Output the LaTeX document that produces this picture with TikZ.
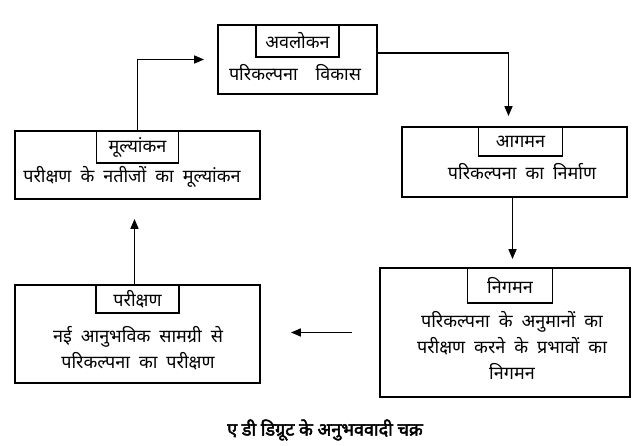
\documentclass[tikz,border=0pt]{standalone}
\usepackage{fontspec}
\newfontfamily\hindi[Script=Devanagari]{Noto Sans}
\newfontfamily\hindibold[Script=Devanagari,FakeBold=2.5]{Noto Sans}
\usetikzlibrary{positioning,arrows.meta}

\begin{document}
\begin{tikzpicture}[x=1pt,y=-1pt,
    font=\hindi\fontsize{18}{26}\selectfont,
    box/.style={draw,line width=1.8pt,inner sep=0pt},
    titlebox/.style={draw,line width=1.8pt,inner sep=0pt,font=\hindi\fontsize{18}{22}\selectfont},
    body/.style={align=center,inner sep=0pt},
    arr/.style={line width=1.6pt,-{Triangle[length=10pt,width=8pt]}}]
      \useasboundingbox (0,0) rectangle (634,446);
      \node[box, minimum width=159pt, minimum height=69pt] (avlokan) at (297.5,59.5) {};
      \node[titlebox, minimum width=83pt, minimum height=32pt, below=0pt of avlokan.north] (avlokanT) {अवलोकन};
      \node[body] (avlokanB) at (295,73) {परिकल्पना\quad विकास};
      \node[box, minimum width=225pt, minimum height=70pt] (agaman) at (514.5,162) {};
      \node[titlebox, minimum width=84pt, minimum height=29pt, below=0pt of agaman.north, xshift=6pt] (agamanT) {आगमन};
      \node[body] (agamanB) at (522,172) {परिकल्पना\enspace का\enspace निर्माण};
      \node[box, minimum width=250pt, minimum height=129pt] (nigaman) at (505,332.5) {};
      \node[titlebox, minimum width=85pt, minimum height=35pt, below=0pt of nigaman.north, xshift=5pt] (nigamanT) {निगमन};
      \node[body] (nigamanB) at (512,345) {परिकल्पना\enspace के\enspace अनुमानों\enspace का\\परीक्षण\enspace करने\enspace के\enspace प्रभावों\enspace का\\निगमन};
      \node[box, minimum width=245pt, minimum height=98pt] (parikshan) at (137.5,334) {};
      \node[titlebox, minimum width=83pt, minimum height=28pt, below=0pt of parikshan.north] (parikshanT) {परीक्षण};
      \node[body] (parikshanB) at (138,348) {नई\enspace आनुभविक\enspace सामग्री\enspace से\\परिकल्पना\enspace का\enspace परीक्षण};
      \node[box, minimum width=245pt, minimum height=68pt] (mulyankan) at (137.5,165) {};
      \node[titlebox, minimum width=82pt, minimum height=32pt, below=0pt of mulyankan.north] (mulyankanT) {मूल्यांकन};
      \node[body] (mulyankanB) at (132,177) {परीक्षण\enspace के\enspace नतीजों\enspace का\enspace मूल्यांकन};
      \node[font=\hindibold\fontsize{18}{20}\selectfont] (caption) at (325,430) {ए डी डिग्रूट के अनुभववादी चक्र};
      \draw[arr, shorten >=13pt] (mulyankan.north) |- (avlokan.west);
      \draw[arr, shorten >=10pt] ([yshift=6.5pt]avlokan.east) -| ([xshift=-6pt]agaman.north);
      \draw[arr, shorten >=8pt] ([xshift=-2pt]agaman.south) -- ([xshift=-2pt]agaman.south |- nigaman.north);
      \draw[arr, shorten <=27pt, shorten >=30pt] (nigaman.west) -- (nigaman.west -| parikshan.east);
      \draw[arr, shorten >=19pt] ([xshift=-3pt]parikshan.north) -- ([xshift=-3pt]parikshan.north |- mulyankan.south);
\end{tikzpicture}
\end{document}
